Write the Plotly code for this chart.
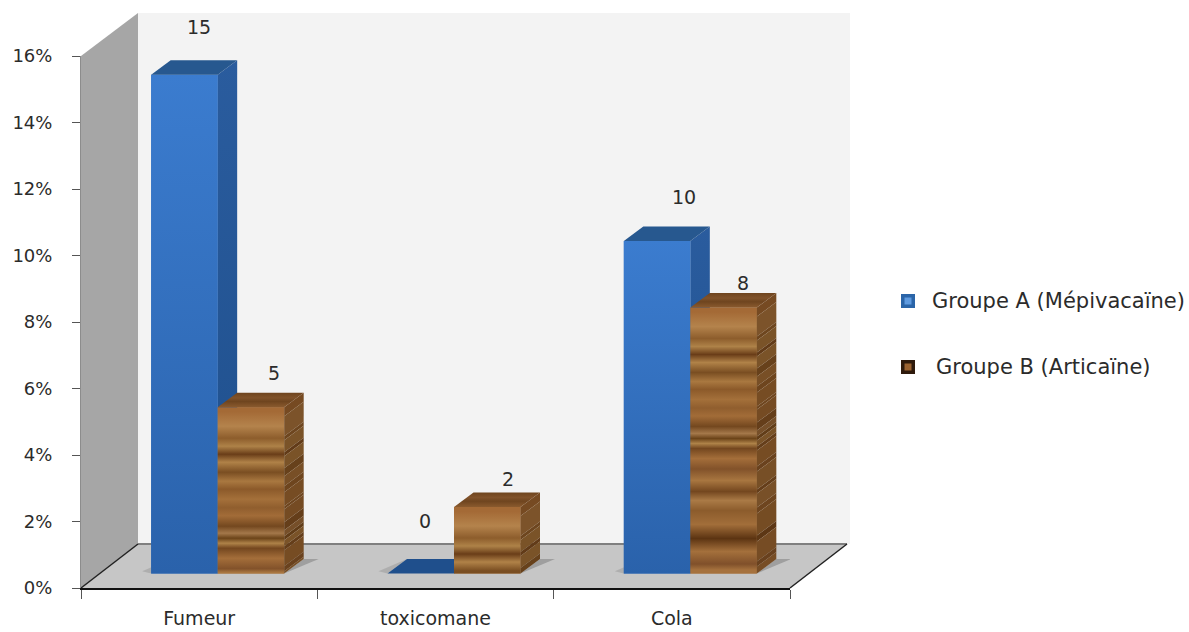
import plotly.graph_objects as go

# Chart content
categories = ["Fumeur", "toxicomane", "Cola"]
group_a_name = "Groupe A (Mépivacaïne)"
group_b_name = "Groupe B (Articaïne)"
group_a_values = [15, 0, 10]
group_b_values = [5, 2, 8]
y_ticks = [0, 2, 4, 6, 8, 10, 12, 14, 16]
y_tick_labels = ["0%", "2%", "4%", "6%", "8%", "10%", "12%", "14%", "16%"]

# Value-label nudges in pixels (right, up), one per bar
label_shift_a = [(15, 48), (4, 53), (27, 44)]
label_shift_b = [(23, 34), (21, 28), (19, 25)]

# Plot frame in pixels
W, H = 1189, 632
LEFT, RIGHT, TOP, BOTTOM = 81, 790, 56, 588
PX_X = (RIGHT - LEFT) / 3       # pixels per category
PX_Y = (BOTTOM - TOP) / 16      # pixels per percent

# Pseudo-3D geometry in pixels
WALL_DX, WALL_DY = 57, 44
WALL_TOP_EXTRA = 43
BAR_W = 66.5
BAR_DX, BAR_DY = 19.5, 14.5
SHIFT_A, SHIFT_B = -48, 18.5    # front-left corner, from the category centre

LIFT = BAR_DY / PX_Y
DX = BAR_DX / PX_X
DY = BAR_DY / PX_Y
WIDTH = BAR_W / PX_X
OFFSET_A = SHIFT_A / PX_X
OFFSET_B = SHIFT_B / PX_X

# Wood grain of the second series: (thickness in px, colour), read downward from the bar top
wood_grain = [
    (9, "#a46a36"), (20, "#b4834c"), (4, "#8d5d2c"), (12, "#ae8248"), (4, "#6a3d18"),
    (12, "#b08248"), (8, "#7a4e22"), (10, "#a97840"), (6, "#8c5a2a"), (14, "#a4703a"),
    (3, "#905e2e"), (13, "#a26c38"), (8, "#74481f"), (6, "#a4784a"), (4, "#6c4419"),
    (6, "#ae8248"), (4, "#74471f"), (16, "#a46e3a"), (5, "#82522a"), (18, "#a87640"),
    (4, "#74471f"), (14, "#aa7a46"), (6, "#8c5c2c"), (22, "#a26e3a"), (6, "#5c3412"),
    (20, "#a4703c"), (5, "#80502a"), (20, "#a6723e"),
]
WOOD_SIDE = "#5e3a18"


def blend(hex_a, hex_b, k):
    a = [int(hex_a[i:i + 2], 16) for i in (1, 3, 5)]
    b = [int(hex_b[i:i + 2], 16) for i in (1, 3, 5)]
    return "rgb({},{},{})".format(*(int(p * (1 - k) + q * k) for p, q in zip(a, b)))


def px_to_paper(px, py):
    return (px - LEFT) / (RIGHT - LEFT), (BOTTOM - py) / (BOTTOM - TOP)


def polygon_shape(points, fill, line=None, width=0):
    path = ""
    for i, (px, py) in enumerate(points):
        fx, fy = px_to_paper(px, py)
        path += f"{'M' if i == 0 else 'L'}{fx:.5f},{fy:.5f} "
    return dict(type="path", xref="paper", yref="paper", path=path + "Z", fillcolor=fill,
                line=dict(color=line or fill, width=width), layer="below")


def segment_shape(p0, p1, colour, width):
    x0, y0 = px_to_paper(*p0)
    x1, y1 = px_to_paper(*p1)
    return dict(type="line", xref="paper", yref="paper", x0=x0, y0=y0, x1=x1, y1=y1,
                line=dict(color=colour, width=width), layer="below")


back_x, back_top = LEFT + WALL_DX, TOP - WALL_TOP_EXTRA
floor_y = BOTTOM - WALL_DY
shapes = [
    polygon_shape([(back_x, back_top), (RIGHT + WALL_DX + 3, back_top),
                   (RIGHT + WALL_DX + 3, floor_y), (back_x, floor_y)], "#f3f3f3"),
    polygon_shape([(LEFT, TOP), (back_x, back_top), (back_x, floor_y), (LEFT, BOTTOM)], "#a6a6a6"),
    polygon_shape([(LEFT, BOTTOM), (back_x, floor_y), (RIGHT + WALL_DX, floor_y), (RIGHT, BOTTOM)], "#c6c6c6"),
    segment_shape((back_x, floor_y), (RIGHT + WALL_DX, floor_y), "#7f7f7f", 2),
    segment_shape((LEFT, BOTTOM), (back_x, floor_y), "#222222", 1.5),
    segment_shape((RIGHT, BOTTOM), (RIGHT + WALL_DX, floor_y), "#222222", 1.5),
]

# Legend swatches
for cy, edge, core in [(301, "#2b65a8", "#5f9be0"), (367, "#2e1a0c", "#9a6230")]:
    for half, colour in [(7, edge), (3.5, core)]:
        shapes.append(polygon_shape([(908 - half, cy - half), (908 + half, cy - half),
                                     (908 + half, cy + half), (908 - half, cy + half)], colour))

fig = go.Figure()

# Front faces
for name, values, offset, colour in [(group_a_name, group_a_values, OFFSET_A, "#3270bd"),
                                     (group_b_name, group_b_values, OFFSET_B, "#a9733c")]:
    fig.add_trace(go.Bar(x=categories, y=values, base=LIFT, name=name, width=WIDTH, offset=offset,
                         marker=dict(color=colour, line=dict(width=0)), cliponaxis=False,
                         showlegend=False))


def poly(xs, ys, **kw):
    fig.add_trace(go.Scatter(x=xs + xs[:1], y=ys + ys[:1], xaxis="x2", yaxis="y", mode="lines",
                             line=dict(width=0), fill="toself", cliponaxis=False,
                             hoverinfo="skip", showlegend=False, **kw))


def floor_shadow(x_left, x_right):
    # soft cast shadow on the floor beside a pair of bars
    reach = 15 / PX_X
    poly([x_right, x_right + DX, x_right + DX + reach], [LIFT, LIFT + DY, LIFT + DY],
         fillcolor="rgba(100,100,100,0.4)")
    poly([x_left, x_left - reach * 0.6, x_left + DX], [LIFT, LIFT + DY * 0.15, LIFT + DY],
         fillcolor="rgba(120,120,120,0.3)")


def blue_bar(i, v):
    x0 = i + OFFSET_A
    x1 = x0 + WIDTH
    top = LIFT + v
    if v > 0:
        poly([x1, x1 + DX, x1 + DX, x1], [LIFT, LIFT + DY, top + DY, top],
             fillgradient=dict(type="vertical", start=top + DY, stop=LIFT,
                               colorscale=[[0, "#2a5c9e"], [1, "#1e4f8c"]]))
        poly([x0, x1, x1, x0], [LIFT, LIFT, top, top],
             fillgradient=dict(type="vertical", start=top, stop=LIFT,
                               colorscale=[[0, "#3b7ccf"], [1, "#2a62ab"]]))
    poly([x0, x1, x1 + DX, x0 + DX], [top, top, top + DY, top + DY],
         fillcolor="#27588f" if v else "#1f4f8c")


def wood_bar(i, v):
    x0 = i + OFFSET_B
    x1 = x0 + WIDTH
    top = LIFT + v
    total = v * PX_Y
    # grain bands run down from the top edge until the bar ends
    bands, depth = [], 0.0
    for thick, colour in wood_grain:
        if depth >= total:
            break
        end = min(depth + thick, total)
        bands.append((depth, end, colour))
        depth = end
    if depth < total:
        bands.append((depth, total, wood_grain[-1][1]))
    stops = [[0, bands[0][2]]]
    stops += [[(a + b) / 2 / total, c] for a, b, c in bands]
    stops.append([1, bands[-1][2]])
    poly([x0, x1, x1, x0], [LIFT, LIFT, top, top],
         fillgradient=dict(type="vertical", start=top, stop=LIFT, colorscale=stops))
    for start, end, colour in bands:
        y_hi = top - start / PX_Y
        y_lo = top - end / PX_Y
        poly([x1, x1 + DX, x1 + DX, x1], [y_lo, y_lo + DY, y_hi + DY, y_hi],
             fillcolor=blend(colour, WOOD_SIDE, 0.65))
    poly([x0, x1, x1 + DX, x0 + DX], [top, top, top + DY, top + DY],
         fillgradient=dict(type="vertical", start=top + DY, stop=top,
                           colorscale=[[0, "#6e441e"], [0.35, "#80522a"], [0.6, "#6f451f"], [1, "#8a5a2e"]]))


# Bars are painted back to front within each category: blue, then wood over its side face
for i in range(len(categories)):
    floor_shadow(i + OFFSET_A, i + OFFSET_B + WIDTH)
for i in range(len(categories)):
    blue_bar(i, group_a_values[i])
    wood_bar(i, group_b_values[i])

FONT = "DejaVu Sans"
TEXT = "#2b2b2b"
annotations = []
for i in range(len(categories)):
    for v, offset, shift in [(group_a_values[i], OFFSET_A, label_shift_a[i]),
                             (group_b_values[i], OFFSET_B, label_shift_b[i])]:
        annotations.append(dict(xref="x2", yref="y", x=i + offset + WIDTH / 2, y=LIFT + v,
                                text=str(v), showarrow=False, xshift=shift[0], yshift=shift[1],
                                font=dict(family=FONT, size=19, color=TEXT)))
for px, py, label in [(932, 301, group_a_name), (936, 367, group_b_name)]:
    fx, fy = px_to_paper(px, py)
    annotations.append(dict(xref="paper", yref="paper", x=fx, y=fy, text=label, showarrow=False,
                            xanchor="left", yanchor="middle", xshift=-2,
                            font=dict(family=FONT, size=21, color=TEXT)))

fig.update_layout(
    width=W, height=H, autosize=False,
    margin=dict(l=LEFT, r=W - RIGHT, t=TOP, b=H - BOTTOM, pad=0),
    paper_bgcolor="white", plot_bgcolor="rgba(0,0,0,0)",
    barmode="overlay", showlegend=False,
    font=dict(family=FONT, size=18, color=TEXT),
    shapes=shapes, annotations=annotations,
    xaxis=dict(type="category", categoryorder="array", categoryarray=categories,
               range=[-0.5, 2.5], tickson="boundaries", ticks="outside", ticklen=9,
               tickcolor="#555555", tickwidth=1, showgrid=False, zeroline=False, automargin=False,
               showline=True, linecolor="#111111", linewidth=2, ticklabelstandoff=12,
               tickfont=dict(family=FONT, size=19, color=TEXT)),
    xaxis2=dict(overlaying="x", range=[-0.5, 2.5], visible=False, fixedrange=True, automargin=False),
    yaxis=dict(range=[0, 16], tickmode="array", tickvals=y_ticks, ticktext=y_tick_labels,
               ticks="outside", ticklen=8, tickcolor="#555555", tickwidth=1, showgrid=False,
               zeroline=False, showline=True, linecolor="#8c8c8c", linewidth=1, automargin=False,
               ticklabelstandoff=16, tickfont=dict(family=FONT, size=18, color=TEXT)),
)

fig.write_html("out.html")
